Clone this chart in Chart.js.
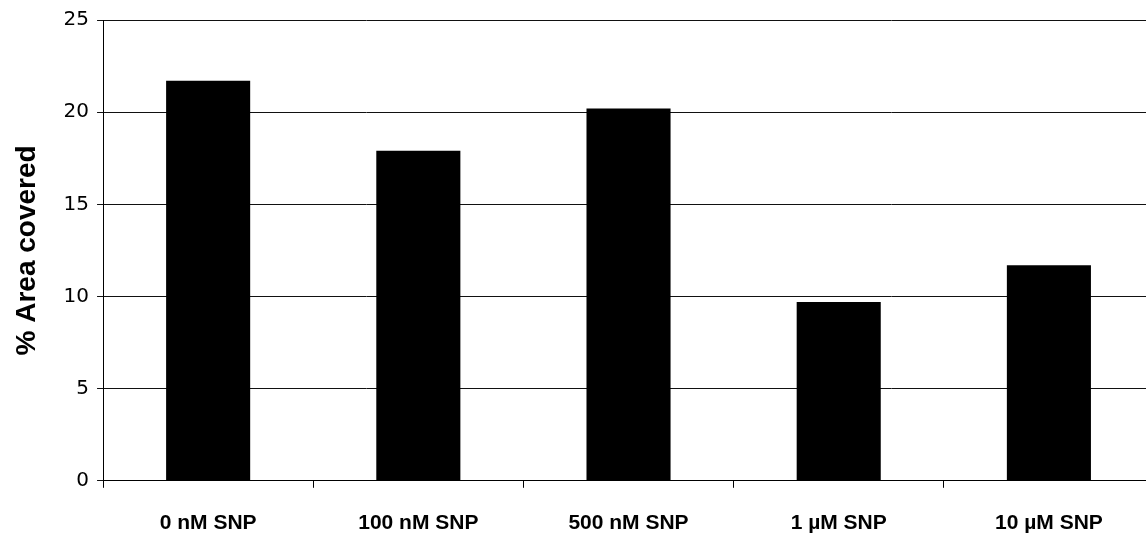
<!DOCTYPE html>
<html>
<head>
<meta charset="utf-8">
<script src="https://cdn.jsdelivr.net/npm/chart.js@4"></script>
<style>
  html, body { margin: 0; padding: 0; background: #fff; overflow: hidden; }
  #wrap { width: 1154px; height: 563px; }
</style>
</head>
<body>
<div id="wrap"><canvas id="areaChart"></canvas></div>
<script>
// Data
var categories = ['0 nM SNP', '100 nM SNP', '500 nM SNP', '1 \u00b5M SNP', '10 \u00b5M SNP'];
var areaCovered = [21.7, 17.9, 20.2, 9.7, 11.7];
var yTicks = [0, 5, 10, 15, 20, 25];

var ctx = document.getElementById('areaChart').getContext('2d');

var areaChart = new Chart(ctx, {
  type: 'bar',
  data: {
    labels: categories,
    datasets: [{
      data: areaCovered,
      backgroundColor: '#000',
      borderWidth: 0,
      barPercentage: 0.8,
      categoryPercentage: 0.5
    }]
  },
  options: {
    responsive: true,
    maintainAspectRatio: false,
    animation: false,
    layout: { padding: { top: 14, left: 10, right: 0, bottom: 4 } },
    plugins: {
      legend: { display: false },
      tooltip: { enabled: false }
    },
    scales: {
      x: {
        grid: { offset: true, drawOnChartArea: false, drawTicks: true, tickLength: 7, color: '#000' },
        border: { display: true, color: '#000', width: 1 },
        ticks: {
          color: '#000',
          padding: 23,
          font: { family: '"Liberation Sans", Arial', size: 21, weight: 'bold' }
        }
      },
      y: {
        min: 0,
        max: 25,
        afterBuildTicks: function (axis) {
          axis.ticks = yTicks.map(function (v) { return { value: v }; });
        },
        grid: { color: '#111', lineWidth: 1, drawTicks: true, tickLength: 6 },
        border: { display: true, color: '#000', width: 1 },
        ticks: {
          color: '#000',
          padding: 8,
          font: { family: '"DejaVu Sans", Verdana', size: 20 }
        },
        title: {
          display: true,
          text: '% Area covered',
          color: '#000',
          padding: { top: 0, bottom: 12 },
          font: { family: '"Liberation Sans", Arial', size: 28, weight: 'bold' }
        }
      }
    }
  }
});
</script>
</body>
</html>
